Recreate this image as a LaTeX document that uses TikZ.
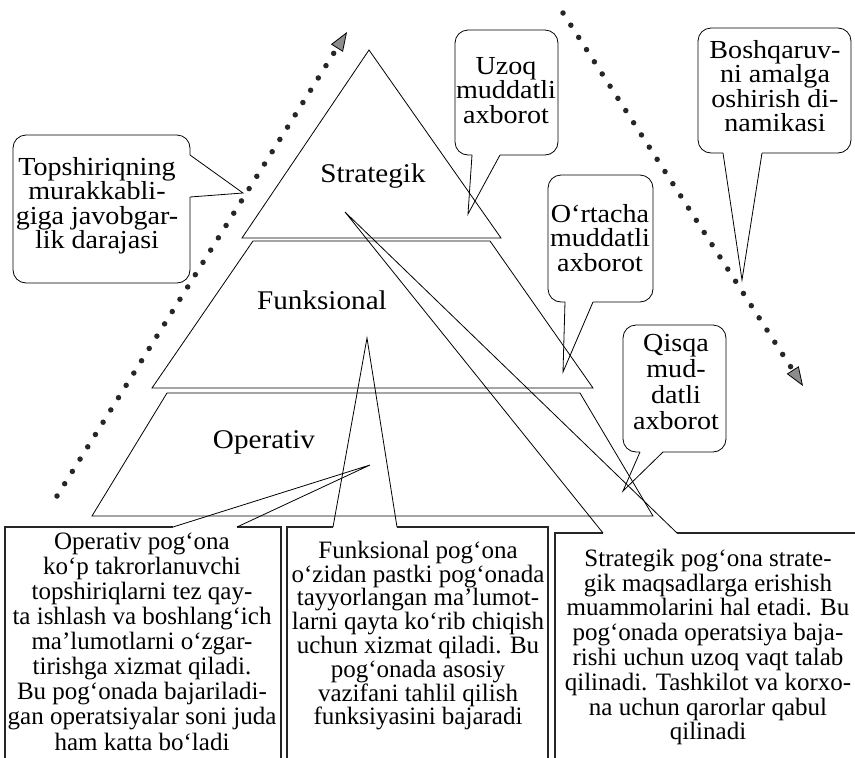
\documentclass[tikz,border=0pt]{standalone}
\usepackage{fontspec}
\setmainfont{Liberation Serif}
\newfontfamily\widefont{Liberation Serif}[FakeStretch=1.08]
\usetikzlibrary{arrows.meta}
\newcommand\fla{\rule{0pt}{19pt}}
\newcommand\flb{\rule{0pt}{18pt}}
\begin{document}
\begin{tikzpicture}[x=1pt,y=-1pt,
  frame/.style={draw=black, line width=0.8pt, line join=miter},
  boxline/.style={draw=black!85, line width=1.1pt},
  balloon/.style={draw=black, line width=0.8pt, rounded corners=13pt},
  balloontext/.style={anchor=north, inner sep=0pt, align=center, font=\widefont\fontsize{26}{24.5}\selectfont},
  boxtxt/.style={anchor=north, inner sep=0pt, align=center, font=\fontsize{25}{25}\selectfont},
  tierlabel/.style={anchor=base, inner sep=0pt, font=\widefont\fontsize{27}{27}\selectfont},
  dotline/.style={draw=black!85, line width=5.5pt, line cap=round, dash pattern=on 0pt off 14.5pt,
     -{Triangle[length=19pt,width=14pt,line width=0.8pt,color=black,fill=black!45]}},
]
\useasboundingbox (0,0) rectangle (855,758);
\clip (0,0) rectangle (855,758);

% pyramid tiers
\draw[frame] (369,50) -- (501,238) -- (242,238) -- cycle;
\draw[frame] (253,241) -- (490,241) -- (593,388) -- (152,388) -- cycle;
\draw[frame] (167,393) -- (580,393) -- (653,516) -- (92,516) -- cycle;
\node[tierlabel] (strat) at (373,182) {Strategik};
\node[tierlabel] (funk) at (322,309) {Funksional};
\node[tierlabel] (oper) at (264,448) {Operativ};

% dotted arrows
\coordinate (dl0) at (57,496);
\coordinate (dl1) at (347,32);
\coordinate (dr0) at (563,13);
\coordinate (dr1) at (803,386);
\draw[dotline] (dl0) -- (dl1);
\draw[dotline] (dr0) -- (dr1);

% balloon: Topshiriqning ...
\coordinate (p1) at (243,193);
\draw[balloon] (190,197) -- (190,283) -- (13,283) -- (13,135) -- (190,135) -- (190,155);
\draw[frame] (190,155) -- (p1) -- (190,197);
\node[balloontext] (b1) at (97,156) {\fla Topshiriqning\\murakkabli-\\giga javobgar-\\lik darajasi};

% balloon: Uzoq muddatli axborot
\coordinate (p2) at (468,214);
\draw[balloon] (500,155) -- (558,155) -- (558,30) -- (455,30) -- (455,155) -- (472,155);
\draw[frame] (472,155) -- (p2) -- (500,155);
\node[balloontext] (b2) at (506,55) {\fla Uzoq\\muddatli\\axborot};

% balloon: Boshqaruvni ...
\coordinate (p3) at (742,280);
\draw[balloon] (762,153) -- (851,153) -- (851,28) -- (698,28) -- (698,153) -- (723,153);
\draw[frame] (723,153) -- (p3) -- (762,153);
\node[balloontext] (b3) at (775,39) {\fla Boshqaruv-\\ni amalga\\oshirish di-\\namikasi};

% balloon: O'rtacha muddatli axborot
\coordinate (p4) at (563,372);
\draw[balloon] (593,302) -- (653,302) -- (653,175) -- (548,175) -- (548,302) -- (565,302);
\draw[frame] (565,302) -- (p4) -- (593,302);
\node[balloontext] (b4) at (600,203) {\fla O‘rtacha\\muddatli\\axborot};

% balloon: Qisqa muddatli axborot
\coordinate (p5) at (623,491);
\draw[balloon] (663,452) -- (726,452) -- (726,325) -- (623,325) -- (623,452) -- (640,452);
\draw[frame] (640,452) -- (p5) -- (663,452);
\node[balloontext, font=\widefont\fontsize{26}{26}\selectfont] (b5) at (676,332) {\fla Qisqa\\mud-\\datli\\axborot};

% bottom box 1: Operativ
\coordinate (q1) at (370,465);
\draw[boxline] (173,527) -- (5,527) -- (5,770);
\draw[boxline] (237,527) -- (281,527) -- (281,770);
\draw[frame] (173,527) -- (q1) -- (237,527);
\node[boxtxt, font=\fontsize{25}{25.1}\selectfont] (t1) at (142,531) {\flb Operativ pog‘ona\\ko‘p takrorlanuvchi\\topshiriqlarni tez qay-\\ta ishlash va boshlang‘ich\\ma’lumotlarni o‘zgar-\\tirishga xizmat qiladi.\\Bu pog‘onada bajariladi-\\gan operatsiyalar soni juda\\ham katta bo‘ladi};

% bottom box 2: Funksional
\coordinate (q2) at (367,338);
\draw[boxline] (333,527) -- (287,527) -- (287,770);
\draw[boxline] (397,527) -- (548,527) -- (548,770);
\draw[frame] (333,527) -- (q2) -- (397,527);
\node[boxtxt, font=\fontsize{25}{23.8}\selectfont] (t2) at (418,540) {\flb Funksional pog‘ona\\o‘zidan pastki pog‘onada\\tayyorlangan ma’lumot-\\larni qayta ko‘rib chiqish\\uchun xizmat qiladi. Bu\\pog‘onada asosiy\\vazifani tahlil qilish\\funksiyasini bajaradi};

% bottom box 3: Strategik
\coordinate (q3) at (345,212);
\draw[boxline] (603,533) -- (555,533) -- (555,770);
\draw[boxline] (677,533) -- (870,533);
\draw[frame] (603,533) -- (q3) -- (677,533);
\node[boxtxt, font=\fontsize{25}{24.8}\selectfont] (t3) at (708,548) {\flb Strategik pog‘ona strate-\\gik maqsadlarga erishish\\muammolarini hal etadi. Bu\\pog‘onada operatsiya baja-\\rishi uchun uzoq vaqt talab\\qilinadi. Tashkilot va korxo-\\na uchun qarorlar qabul\\qilinadi};
\end{tikzpicture}
\end{document}
